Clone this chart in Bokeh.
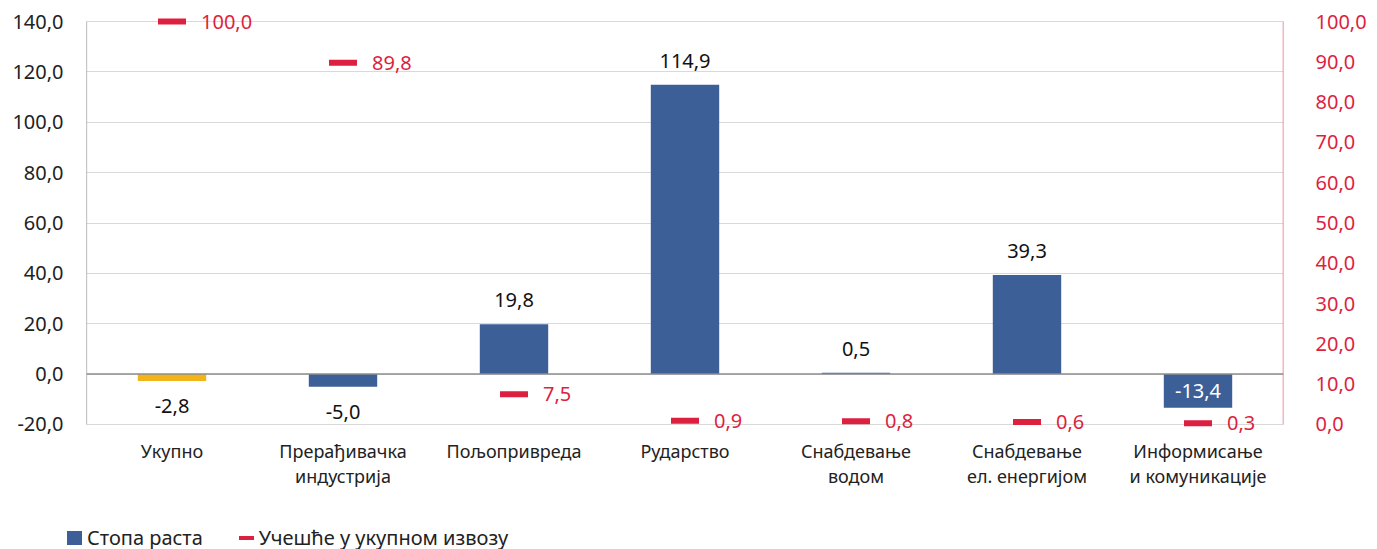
from bokeh.plotting import figure
from bokeh.layouts import column
from bokeh.models import (ColumnDataSource, FactorRange, Range1d, LinearAxis, FixedTicker,
                          CustomJSTickFormatter, LabelSet, Span, Div)
from bokeh.transform import dodge
from bokeh.core.properties import value
from bokeh.embed import file_html
from bokeh.resources import INLINE

categories = ["Укупно", "Прерађивачка\nиндустрија", "Пољопривреда", "Рударство",
              "Снабдевање\nводом", "Снабдевање\nел. енергијом", "Информисање\nи комуникације"]
growth = [-2.8, -5.0, 19.8, 114.9, 0.5, 39.3, -13.4]
share = [100.0, 89.8, 7.5, 0.9, 0.8, 0.6, 0.3]
series_names = ["Стопа раста", "Учешће у укупном извозу"]
left_ticks = [-20, 0, 20, 40, 60, 80, 100, 120, 140]
right_ticks = [0, 10, 20, 30, 40, 50, 60, 70, 80, 90, 100]
left_min, left_max = -20, 140
right_min, right_max = 0, 100

BLUE = "#3D5F98"
GOLD = "#F2B418"
RED = "#DD1F40"
FONT = "Noto Sans"
PAD = 4  # extra room (in left-axis units) so edge labels are not clipped


def fmt(v):
    return f"{v:.1f}".replace(".", ",")


def to_right(v):
    return right_min + (v - left_min) * (right_max - right_min) / (left_max - left_min)


bar_colors = [GOLD] + [BLUE] * (len(growth) - 1)
bars = ColumnDataSource(dict(x=categories, y=growth, color=bar_colors))

xr = FactorRange(*categories, range_padding=0.0)
p = figure(x_range=xr, y_range=Range1d(left_min - PAD, left_max + PAD),
           width=1375, height=514, output_backend="svg", toolbar_location=None,
           min_border_left=86, min_border_right=92, min_border_top=11, min_border_bottom=80)
p.extra_y_ranges = {"right": Range1d(to_right(left_min - PAD), to_right(left_max + PAD))}
p.outline_line_color = None

comma_fmt = CustomJSTickFormatter(code="return tick.toFixed(1).replace('.', ',');")

ax = p.yaxis[0]
ax.ticker = FixedTicker(ticks=left_ticks)
ax.formatter = comma_fmt
ax.major_tick_line_color = None
ax.minor_tick_line_color = None
ax.axis_line_color = None
ax.major_label_text_font = FONT
ax.major_label_text_font_size = "20px"
ax.major_label_text_color = "#222222"
ax.major_label_standoff = 17

rax = LinearAxis(y_range_name="right", ticker=FixedTicker(ticks=right_ticks), formatter=comma_fmt)
rax.major_tick_line_color = None
rax.minor_tick_line_color = None
rax.axis_line_color = None
rax.major_label_text_font = FONT
rax.major_label_text_font_size = "20px"
rax.major_label_text_color = RED
rax.major_label_standoff = 26
p.add_layout(rax, "right")

xa = p.xaxis[0]
xa.axis_line_color = None
xa.major_tick_line_color = None
xa.minor_tick_line_color = None
xa.major_label_text_font = FONT
xa.major_label_text_font_size = "18px"
xa.major_label_text_color = "#222222"
xa.major_label_standoff = -2
xa.major_label_text_line_height = 1.05

p.xgrid.grid_line_color = None
p.ygrid.grid_line_color = "#D9D9D9"
p.ygrid.ticker = FixedTicker(ticks=left_ticks)

# axis lines limited to the value range, at the outer edges of the first/last category
left_src = ColumnDataSource(dict(c=[categories[0]], y0=[left_min], y1=[left_max]))
p.segment(x0=dodge("c", -0.5, range=xr), y0="y0", x1=dodge("c", -0.5, range=xr), y1="y1",
          source=left_src, line_color="#8C8C8C", line_width=1.2)
right_src = ColumnDataSource(dict(c=[categories[-1]], y0=[right_min], y1=[right_max]))
p.segment(x0=dodge("c", 0.5, range=xr), y0="y0", x1=dodge("c", 0.5, range=xr), y1="y1",
          source=right_src, y_range_name="right", line_color="#E8707F", line_width=1.5)

p.add_layout(Span(location=0, dimension="width", line_color="#8C8C8C", line_width=1.5))

p.vbar(x="x", top="y", bottom=0, width=0.4, source=bars, fill_color="color", line_color=None)

share_src = ColumnDataSource(dict(x=categories, y=share, lab=[fmt(v) for v in share]))
p.rect(x="x", y="y", width=28, height=6, width_units="screen", height_units="screen",
       source=share_src, y_range_name="right", fill_color=RED, line_color=None)
p.add_layout(LabelSet(x="x", y="y", text="lab", source=share_src, y_range_name="right",
                      x_offset=29, text_align="left", text_baseline="middle",
                      text_font=value(FONT), text_font_size="20px", text_color=RED))

pos = [(c, v) for c, v in zip(categories, growth) if v >= 0]
neg = [(c, v) for c, v in zip(categories, growth) if -10 < v < 0]
big = [(c, v) for c, v in zip(categories, growth) if v <= -10]

src_pos = ColumnDataSource(dict(x=[c for c, _ in pos], y=[v for _, v in pos], lab=[fmt(v) for _, v in pos]))
src_neg = ColumnDataSource(dict(x=[c for c, _ in neg], y=[v for _, v in neg], lab=[fmt(v) for _, v in neg]))
src_big = ColumnDataSource(dict(x=[c for c, _ in big], y=[v / 2 for _, v in big], lab=[fmt(v) for _, v in big]))

p.add_layout(LabelSet(x="x", y="y", text="lab", source=src_pos, y_offset=17, text_align="center",
                      text_baseline="bottom", text_font=value(FONT), text_font_size="20px",
                      text_color="#111111"))
p.add_layout(LabelSet(x="x", y="y", text="lab", source=src_neg, y_offset=-18, text_align="center",
                      text_baseline="top", text_font=value(FONT), text_font_size="20px",
                      text_color="#111111"))
p.add_layout(LabelSet(x="x", y="y", text="lab", source=src_big, text_align="center",
                      text_baseline="middle", text_font=value(FONT), text_font_size="20px",
                      text_color="white"))

# legend strip below the chart
legend_html = (
    f'<div style="font-family:\'{FONT}\';font-size:20px;color:#222222;line-height:28px;'
    f'padding-top:8px;white-space:nowrap;">'
    f'<span style="display:inline-block;width:15px;height:14px;background:{BLUE};'
    f'margin-left:67px;margin-right:5px;vertical-align:middle;"></span>'
    f'<span style="vertical-align:middle;">{series_names[0]}</span>'
    f'<span style="display:inline-block;width:15px;height:4px;background:{RED};'
    f'margin-left:36px;margin-right:5px;vertical-align:middle;"></span>'
    f'<span style="vertical-align:middle;">{series_names[1]}</span>'
    f'</div>'
)
lg = Div(text=legend_html, width=1375, height=35, margin=(0, 0, 0, 0))

open("out.html", "w").write(file_html(column(p, lg, spacing=0), INLINE))
